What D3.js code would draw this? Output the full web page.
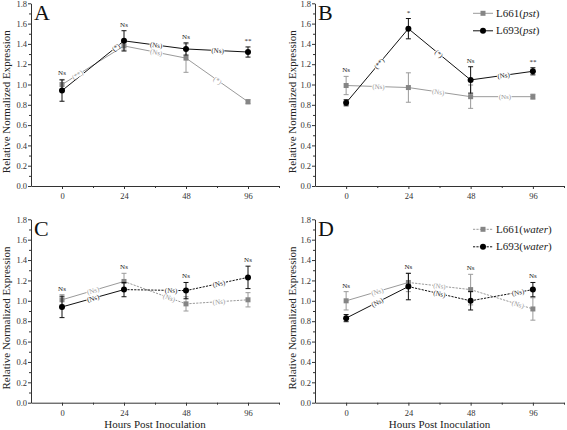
<!DOCTYPE html>
<html><head><meta charset="utf-8">
<script src="https://cdn.jsdelivr.net/npm/d3@7"></script>
<style>
body{margin:0;background:#fff}
svg{display:block}
svg text{font-family:"Liberation Serif","Times New Roman",serif !important}
</style>
</head><body>
<svg id="chart" width="567" height="430"></svg>
<script>
// ---------- data ----------
const hours = ["0", "24", "48", "96"];
const yTicks = [0, 0.2, 0.4, 0.6, 0.8, 1.0, 1.2, 1.4, 1.6, 1.8];
const yMinorTicks = [0.1, 0.3, 0.5, 0.7, 0.9, 1.1, 1.3, 1.5, 1.7];
const seriesNames = ["L661", "L693"];

// Panel A (pst)
const aL661 = [1.00, 1.38, 1.26, 0.83];
const aL661Err = [0.05, 0.04, 0.14, 0.02];
const aL693 = [0.94, 1.43, 1.35, 1.32];
const aL693Err = [0.105, 0.10, 0.06, 0.05];
const aTop = ["Ns", "Ns", "Ns", "**"];
const aSeg661 = ["(**)", "(Ns)", "(*)"];
const aSeg693 = ["(*)", "(Ns)", "(Ns)"];

// Panel B (pst)
const bL661 = [0.99, 0.97, 0.88, 0.88];
const bL661Err = [0.09, 0.145, 0.115, 0.025];
const bL693 = [0.82, 1.55, 1.045, 1.13];
const bL693Err = [0.03, 0.10, 0.13, 0.035];
const bTop = ["Ns", "*", "Ns", "**"];
const bSeg661 = ["(Ns)", "(Ns)", "(Ns)"];
const bSeg693 = ["(**)", "(*)", "(Ns)"];

// Panel C (water)
const cL661 = [1.01, 1.19, 0.97, 1.01];
const cL661Err = [0.05, 0.08, 0.07, 0.07];
const cL693 = [0.94, 1.11, 1.10, 1.23];
const cL693Err = [0.105, 0.07, 0.08, 0.11];
const cTop = ["Ns", "Ns", "Ns", "Ns"];
const cSeg661 = ["(Ns)", "(Ns)", "(Ns)"];
const cSeg693 = ["(Ns)", "(Ns)", "(Ns)"];

// Panel D (water)
const dL661 = [1.00, 1.18, 1.11, 0.92];
const dL661Err = [0.09, 0.09, 0.15, 0.11];
const dL693 = [0.83, 1.14, 1.00, 1.11];
const dL693Err = [0.035, 0.13, 0.09, 0.07];
const dTop = ["Ns", "Ns", "Ns", "Ns"];
const dSeg661 = ["(Ns)", "(Ns)", "(Ns)"];
const dSeg693 = ["(Ns)", "(Ns)", "(Ns)"];

// ---------- layout ----------
const GRAY_LINE = "#9a9a9a", GRAY_MARK = "#858585", GRAY_TEXT = "#999999";
const panels = [
  {letter: "A", left: 31, right: 279, top: 3.3, bottom: 186, cond: "pst", dashed: false,
   s: [[aL661, aL661Err, aSeg661, [0.25, 0.52, 0.51]], [aL693, aL693Err, aSeg693, [0.87, 0.52, 0.51]]],
   top_: aTop, yTitleX: 6, xTitle: false, legend: false},
  {letter: "B", left: 315, right: 564, top: 3.3, bottom: 186, cond: "pst", dashed: false,
   s: [[bL661, bL661Err, bSeg661, [0.52, 0.48, 0.55]], [bL693, bL693Err, bSeg693, [0.53, 0.49, 0.53]]],
   top_: bTop, yTitleX: 292, xTitle: false, legend: true},
  {letter: "C", left: 31, right: 279, top: 219.3, bottom: 402.7, cond: "water", dashed: true,
   s: [[cL661, cL661Err, cSeg661, [0.5, 0.73, 0.53]], [cL693, cL693Err, cSeg693, [0.5, 0.76, 0.53]]],
   top_: cTop, yTitleX: 6, xTitle: true, legend: false},
  {letter: "D", left: 315, right: 564, top: 219.3, bottom: 402.7, cond: "water", dashed: true,
   s: [[dL661, dL661Err, dSeg661, [0.5, 0.5, 0.76]], [dL693, dL693Err, dSeg693, [0.5, 0.5, 0.76]]],
   top_: dTop, yTitleX: 292, xTitle: true, legend: true}
];

const svg = d3.select("#chart");

panels.forEach(p => {
  const g = svg.append("g");
  const x = d3.scaleLinear().domain([-0.5, 3.5]).range([p.left, p.right]);
  const y = d3.scaleLinear().domain([0, 1.8]).range([p.bottom, p.top]);

  // axes
  g.append("g").attr("transform", `translate(${p.left},0)`)
    .call(d3.axisLeft(y).tickValues(yTicks).tickFormat(d3.format(".1f")).tickSize(3).tickSizeOuter(0).tickPadding(1));
  g.append("g").attr("transform", `translate(${p.left},0)`)
    .call(d3.axisLeft(y).tickValues(yMinorTicks).tickFormat("").tickSize(2).tickSizeOuter(0))
    .select(".domain").remove();
  g.append("g").attr("transform", `translate(0,${p.bottom})`)
    .call(d3.axisBottom(x).tickValues([0, 1, 2, 3]).tickFormat(i => hours[i]).tickSize(3).tickSizeOuter(0).tickPadding(4));
  g.append("g").attr("transform", `translate(0,${p.bottom})`)
    .call(d3.axisBottom(x).tickValues([0.5, 1.5, 2.5, 3.5]).tickFormat("").tickSize(2).tickSizeOuter(0))
    .select(".domain").remove();
  g.selectAll(".tick text").attr("font-size", 8.5).attr("fill", "#333");
  g.selectAll("path.domain, .tick line").attr("stroke", "#333");

  // titles
  g.append("text").attr("transform", `translate(${p.yTitleX + 4},${(p.top + p.bottom) / 2 + 7}) rotate(-90)`)
    .attr("text-anchor", "middle").attr("font-size", 11).attr("fill", "#222")
    .text("Relative Normalized Expression");
  if (p.xTitle) {
    g.append("text").attr("x", (p.left + p.right) / 2).attr("y", 428)
      .attr("text-anchor", "middle").attr("font-size", 11).attr("fill", "#222")
      .text("Hours Post Inoculation");
  }
  g.append("text").attr("x", p.left + 3).attr("y", p.top + 16.2)
    .attr("font-size", 22).attr("fill", "#111").text(p.letter);

  const styles = [
    {line: GRAY_LINE, mark: GRAY_MARK, text: GRAY_TEXT, shape: "square"},
    {line: "#111", mark: "#000", text: "#222", shape: "circle"}
  ];

  // lines (segment by segment)
  p.s.forEach((ser, si) => {
    const vals = ser[0];
    const st = styles[si];
    for (let k = 0; k < vals.length - 1; k++) {
      g.append("line")
        .attr("x1", x(k)).attr("y1", y(vals[k]))
        .attr("x2", x(k + 1)).attr("y2", y(vals[k + 1]))
        .attr("stroke", st.line).attr("stroke-width", 1)
        .attr("stroke-dasharray", p.dashed && k > 0 ? "2.2,1.2" : null);
    }
  });

  // segment labels
  p.s.forEach((ser, si) => {
    const vals = ser[0], labs = ser[2], ts = ser[3];
    const st = styles[si];
    labs.forEach((txt, k) => {
      const t = ts[k];
      const x1 = x(k), y1 = y(vals[k]), x2 = x(k + 1), y2 = y(vals[k + 1]);
      const cx = x1 + (x2 - x1) * t, cy = y1 + (y2 - y1) * t;
      const ang = Math.atan2(y2 - y1, x2 - x1) * 180 / Math.PI;
      const lg = g.append("g").attr("transform", `translate(${cx},${cy}) rotate(${ang})`);
      const tx = lg.append("text").attr("text-anchor", "middle").attr("dy", "0.35em")
        .attr("font-size", 7).attr("fill", st.text).text(txt);
      const w = tx.node().getComputedTextLength();
      lg.insert("rect", "text").attr("x", -w / 2 - 0.5).attr("y", -2.5).attr("width", w + 1).attr("height", 5).attr("fill", "#fff");
    });
  });

  // error bars + markers
  p.s.forEach((ser, si) => {
    const vals = ser[0], errs = ser[1];
    const st = styles[si];
    vals.forEach((v, i) => {
      const e = errs[i];
      g.append("line").attr("x1", x(i)).attr("x2", x(i)).attr("y1", y(v - e)).attr("y2", y(v + e))
        .attr("stroke", st.line).attr("stroke-width", 1);
      [v - e, v + e].forEach(yy => {
        g.append("line").attr("x1", x(i) - 2.5).attr("x2", x(i) + 2.5).attr("y1", y(yy)).attr("y2", y(yy))
          .attr("stroke", st.line).attr("stroke-width", 1);
      });
      if (st.shape === "square") {
        g.append("rect").attr("x", x(i) - 2.5).attr("y", y(v) - 2.5).attr("width", 5).attr("height", 5).attr("fill", st.mark);
      } else {
        g.append("circle").attr("cx", x(i)).attr("cy", y(v)).attr("r", 3).attr("fill", st.mark);
      }
    });
  });

  // top significance labels
  p.top_.forEach((txt, i) => {
    const topV = Math.max(p.s[0][0][i] + p.s[0][1][i], p.s[1][0][i] + p.s[1][1][i]);
    g.append("text").attr("x", x(i)).attr("y", y(topV) - 4)
      .attr("text-anchor", "middle").attr("font-size", 7).attr("fill", "#222").text(txt);
  });

  // legend
  if (p.legend) {
    seriesNames.forEach((name, si) => {
      const st = styles[si];
      const ly = p.top + 10 + si * 17.5;
      const lx = 473;
      g.append("line").attr("x1", lx).attr("x2", lx + 20).attr("y1", ly).attr("y2", ly)
        .attr("stroke", st.line).attr("stroke-width", 1)
        .attr("stroke-dasharray", p.dashed ? "2.2,1.2" : null);
      if (st.shape === "square") {
        g.append("rect").attr("x", lx + 7.5).attr("y", ly - 2.5).attr("width", 5).attr("height", 5).attr("fill", st.mark);
      } else {
        g.append("circle").attr("cx", lx + 10).attr("cy", ly).attr("r", 3).attr("fill", st.mark);
      }
      const t = g.append("text").attr("x", lx + 23).attr("y", ly + 3.5).attr("font-size", 11).attr("fill", "#222");
      t.append("tspan").text(name + "(");
      t.append("tspan").attr("font-style", "italic").text(p.cond);
      t.append("tspan").text(")");
    });
  }
});
</script>
</body></html>
